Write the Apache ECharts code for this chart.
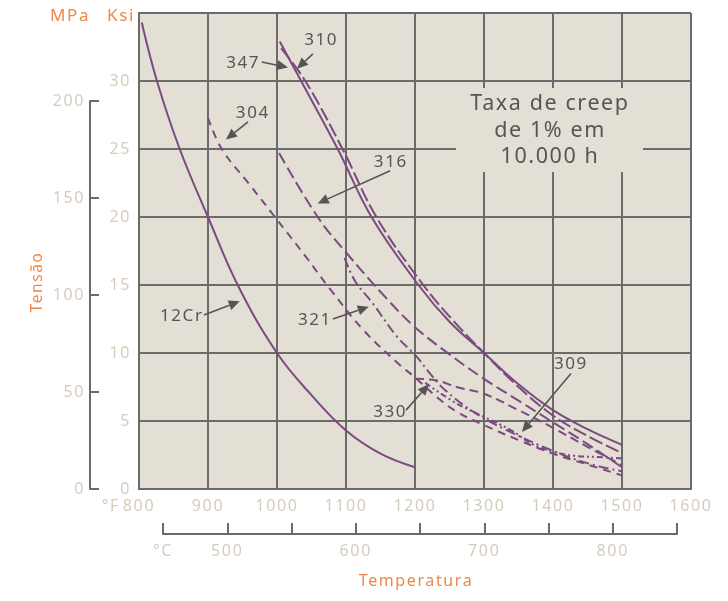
<!DOCTYPE html>
<html>
<head>
<meta charset="utf-8">
<script src="https://cdn.jsdelivr.net/npm/echarts@6/dist/echarts.min.js"></script>
<style>
  html, body { margin: 0; padding: 0; background: #ffffff; }
  #c { width: 728px; height: 601px; }
</style>
</head>
<body>
<div id="c"></div>
<script>
// Stress for 1% creep in 10 000 h, ksi, against temperature in °F
const alloy12Cr = [[804,34.3],[826,30],[859,25],[900,20],[943,15],[1000,10],[1050,6.9],[1100,4.3],[1150,2.6],[1200,1.6]];
const alloy304  = [[900,27.3],[920,25],[960,22.4],[997,20],[1040,17.2],[1077,14.7],[1125,11.7],[1174,9.3],[1200,8.2],[1233,6.7],[1260,5.7],[1300,4.7],[1350,3.6],[1400,2.6],[1450,1.8],[1500,1.0]];
const alloy310  = [[1004,32.9],[1035,30],[1088,25],[1137,20],[1205,15],[1250,12.3],[1300,10],[1350,7.7],[1400,5.8],[1450,4.4],[1500,3.25]];
const alloy347  = [[1006,32.4],[1041,30],[1095,25],[1144,20],[1212,15],[1255,12.4],[1300,10],[1350,7.5],[1400,5.4],[1450,3.9],[1500,2.65]];
const alloy316  = [[1003,24.7],[1059,20],[1100,17.4],[1159,14.0],[1200,11.9],[1250,9.9],[1300,8.1],[1350,6.5],[1400,4.9],[1450,3.3],[1500,1.6]];
const alloy321  = [[1098,17.0],[1113,15.3],[1138,13.7],[1174,11.2],[1203,9.7],[1220,8.6],[1243,7.3],[1287,5.6],[1330,4.4],[1400,2.8],[1450,1.9],[1500,1.3]];
const alloy330  = [[1200,8.1],[1230,8.0],[1260,7.5],[1300,7.0],[1350,5.8],[1400,4.5],[1450,3.1],[1500,1.75]];
const alloy309  = [[1215,7.8],[1260,6.3],[1300,5.3],[1340,4.3],[1370,3.3],[1400,2.75],[1430,2.45],[1465,2.35],[1500,2.25]];

// Axis ranges and tick labels
const ksiRange = [0, 35];
const ksiStep = 5;
const mpaRange = [0, 200];
const mpaStep = 50;
const fahrenheitRange = [800, 1600];
const fahrenheitStep = 100;
const celsiusRange = [450, 850];
const celsiusStep = 50;
const celsiusLabels = { 450: '°C', 500: '500', 600: '600', 700: '700', 800: '800' };

// Callouts: label text, label anchor and arrow (from → to), in °F / ksi
const calloutNames = ['310', '347', '304', '316', '12Cr', '321', '330', '309'];
const calloutText  = [[1064,33.0],[951,31.3],[965,27.6],[1165,24.0],[862,12.7],[1055,12.4],[1164,5.66],[1426,9.2]];
const calloutFrom  = [[1052,32.0],[978,31.4],[958,27.0],[1164,23.4],[894,12.8],[1081,12.5],[1187,5.8],[1426,8.5]];
const calloutTo    = [[1029,30.9],[1016,31.0],[926,25.7],[1059,21.0],[946,13.8],[1133,13.4],[1220,7.7],[1355,4.2]];

const boxLines = ['Taxa de creep', 'de 1% em', '10.000 h'];

const PURPLE = '#7b4a7f';
const GRIDC = '#6b6b6b';
const BEIGE = '#d5ccbc';
const ORANGE = '#f0864a';
const INK = '#555555';
const PLOT_BG = '#e4dfd4';
const FONT = '"Noto Sans", "Open Sans", sans-serif';

const chart = echarts.init(document.getElementById('c'), null, { renderer: 'canvas' });

function curve(name, data, type) {
  return {
    name, type: 'line', data, xAxisIndex: 0, yAxisIndex: 0,
    smooth: 0.4, showSymbol: false, symbol: 'none',
    lineStyle: { color: PURPLE, width: 2, type, cap: 'butt' },
    z: 5, silent: true
  };
}

const hiddenAxis = (gridIndex) => ({
  gridIndex, type: 'value', show: false, min: 0, max: 1,
  axisLine: { show: false }, axisTick: { show: false }, axisLabel: { show: false }, splitLine: { show: false }
});

const option = {
  animation: false,
  backgroundColor: '#ffffff',
  textStyle: { fontFamily: FONT },
  grid: [
    { left: 139, right: 37, top: 13, bottom: 112, show: true, backgroundColor: PLOT_BG, borderWidth: 0 },
    { left: 90, width: 10, top: 101, bottom: 112 },
    { left: 163, right: 51, top: 523, bottom: 67 }
  ],
  xAxis: [
    {
      gridIndex: 0, type: 'value', min: fahrenheitRange[0], max: fahrenheitRange[1], interval: fahrenheitStep,
      axisLine: { show: true, lineStyle: { color: GRIDC, width: 2 } },
      axisTick: { show: false },
      splitLine: { show: true, lineStyle: { color: GRIDC, width: 2 } },
      axisLabel: { color: BEIGE, fontSize: 16, margin: 9, fontFamily: FONT, formatter: v => String(v) }
    },
    {
      gridIndex: 2, type: 'value', min: celsiusRange[0], max: celsiusRange[1], interval: celsiusStep,
      position: 'bottom',
      axisLine: { show: true, lineStyle: { color: GRIDC, width: 2 } },
      axisTick: { show: true, inside: true, length: 11, lineStyle: { color: GRIDC, width: 2 } },
      splitLine: { show: false },
      axisLabel: { color: BEIGE, fontSize: 16, margin: 9, fontFamily: FONT, showMinLabel: true, showMaxLabel: true,
        formatter: v => celsiusLabels[v] || '' }
    },
    hiddenAxis(1)
  ],
  yAxis: [
    {
      gridIndex: 0, type: 'value', min: ksiRange[0], max: ksiRange[1], interval: ksiStep,
      axisLine: { show: true, lineStyle: { color: GRIDC, width: 2 } },
      axisTick: { show: false },
      splitLine: { show: true, lineStyle: { color: GRIDC, width: 2 } },
      axisLabel: { color: BEIGE, fontSize: 16, margin: 8, fontFamily: FONT,
        formatter: v => (v >= ksiRange[1] ? '' : String(v)) }
    },
    {
      gridIndex: 1, type: 'value', min: mpaRange[0], max: mpaRange[1], interval: mpaStep,
      position: 'left',
      axisLine: { show: true, lineStyle: { color: GRIDC, width: 2 } },
      axisTick: { show: true, inside: true, length: 9, lineStyle: { color: GRIDC, width: 2 } },
      splitLine: { show: false },
      axisLabel: { color: BEIGE, fontSize: 16, margin: 5, fontFamily: FONT }
    },
    hiddenAxis(2)
  ],
  series: [
    curve('12Cr', alloy12Cr, 'solid'),
    curve('304', alloy304, [8, 6]),
    curve('310', alloy310, 'solid'),
    curve('347', alloy347, [14, 4]),
    curve('316', alloy316, [12, 5]),
    curve('321', alloy321, [10, 4, 2, 4]),
    curve('330', alloy330, [9, 5]),
    curve('309', alloy309, [6, 3, 2, 3, 2, 3])
  ]
};
chart.setOption(option);

// tracked lettering: the layer canvas exists after the first render
document.querySelectorAll('#c canvas').forEach(cv => {
  const ctx = cv.getContext('2d');
  if ('letterSpacing' in ctx) ctx.letterSpacing = '1.6px';
});

// Annotation layer: titles, callouts and the note box
const g = [];
const title = (text, x, y, size, extra) => Object.assign({
  type: 'text', x, y, z: 20,
  style: { text, fill: ORANGE, font: `${size}px ${FONT}`, textAlign: 'center', textVerticalAlign: 'middle' }
}, extra || {});
g.push(title('MPa', 70, 16, 17));
g.push(title('Ksi', 121, 16, 17));
g.push(title('Tensão', 38, 282, 15.5, { rotation: Math.PI / 2 }));
g.push(title('Temperatura', 416, 581, 16));
g.push({ type: 'text', x: 120, y: 506, z: 20,
  style: { text: '°F', fill: BEIGE, font: `16px ${FONT}`, textAlign: 'right', textVerticalAlign: 'middle' } });

// note box over the grid
g.push({ type: 'rect', shape: { x: 456, y: 88, width: 187, height: 84 }, z: 10,
  style: { fill: PLOT_BG } });
boxLines.forEach((t, i) => g.push({ type: 'text', x: 550, y: 104 + i * 26.5, z: 11,
  style: { text: t, fill: INK, font: `21.5px ${FONT}`, textAlign: 'center', textVerticalAlign: 'middle' } }));

calloutNames.forEach((name, i) => {
  const p = chart.convertToPixel({ xAxisIndex: 0, yAxisIndex: 0 }, calloutText[i]);
  const a = chart.convertToPixel({ xAxisIndex: 0, yAxisIndex: 0 }, calloutFrom[i]);
  const b = chart.convertToPixel({ xAxisIndex: 0, yAxisIndex: 0 }, calloutTo[i]);
  g.push({ type: 'text', x: p[0], y: p[1], z: 12,
    style: { text: name, fill: INK, font: `17px ${FONT}`, textAlign: 'center', textVerticalAlign: 'middle' } });
  const dx = b[0] - a[0], dy = b[1] - a[1];
  const len = Math.hypot(dx, dy), ux = dx / len, uy = dy / len;
  const head = 11, half = 5;
  const bx = b[0] - ux * head, by = b[1] - uy * head;
  g.push({ type: 'line', z: 12, shape: { x1: a[0], y1: a[1], x2: bx, y2: by },
    style: { stroke: INK, lineWidth: 1.6 } });
  g.push({ type: 'polygon', z: 12,
    shape: { points: [[b[0], b[1]], [bx - uy * half, by + ux * half], [bx + uy * half, by - ux * half]] },
    style: { fill: INK } });
});
chart.setOption({ graphic: g });
</script>
</body>
</html>
